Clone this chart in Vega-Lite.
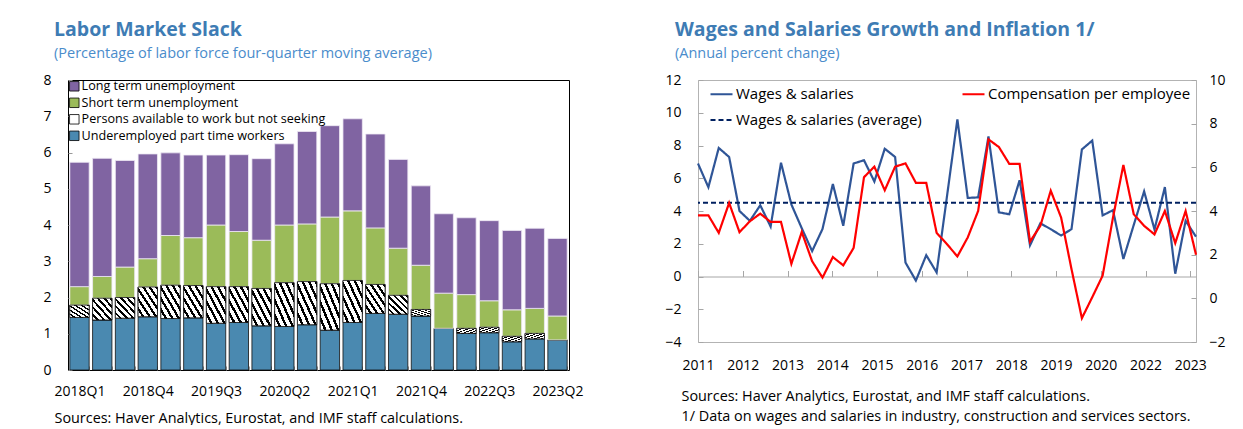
{
  "$schema": "https://vega.github.io/schema/vega-lite/v6.json",
  "background": "white",
  "padding": {"left": 42, "top": 19, "right": 0, "bottom": 0},
  "spacing": 80,
  "resolve": {"scale": {"color": "independent", "strokeDash": "independent"}, "legend": {"color": "independent", "strokeDash": "independent"}},
  "config": {
    "font": "Open Sans",
    "title": {"anchor": "start", "frame": "group", "fontSize": 19.5, "fontWeight": "bold", "color": "#3E7CB4", "subtitleColor": "#4A8CCB", "subtitleFontSize": 14.5, "subtitlePadding": 6, "offset": 12},
    "axis": {"labelFont": "Open Sans", "labelFontSize": 14, "labelColor": "#000000", "grid": false, "domain": false, "ticks": false, "titleFont": "Open Sans", "titleFontWeight": "normal", "titleColor": "#000000", "titleFontSize": 14.4},
    "legend": {"labelFont": "Open Sans", "labelColor": "#000000"}
  },
  "hconcat": [
    {
      "width": 501,
      "height": 290,
      "title": {"text": "Labor Market Slack", "subtitle": "(Percentage of labor force four-quarter moving average)", "dx": -14},
      "view": {"stroke": "#000000", "strokeWidth": 1},
      "data": {"values": [
        {"quarter": "2018Q1", "series": "Underemployed part time workers", "k": 1, "value": 1.45},
        {"quarter": "2018Q1", "series": "Persons available to work but not seeking", "k": 2, "value": 0.34},
        {"quarter": "2018Q1", "series": "Short term unemployment", "k": 3, "value": 0.51},
        {"quarter": "2018Q1", "series": "Long term unemployment", "k": 4, "value": 3.43},
        {"quarter": "2018Q2", "series": "Underemployed part time workers", "k": 1, "value": 1.38},
        {"quarter": "2018Q2", "series": "Persons available to work but not seeking", "k": 2, "value": 0.60},
        {"quarter": "2018Q2", "series": "Short term unemployment", "k": 3, "value": 0.60},
        {"quarter": "2018Q2", "series": "Long term unemployment", "k": 4, "value": 3.26},
        {"quarter": "2018Q3", "series": "Underemployed part time workers", "k": 1, "value": 1.43},
        {"quarter": "2018Q3", "series": "Persons available to work but not seeking", "k": 2, "value": 0.57},
        {"quarter": "2018Q3", "series": "Short term unemployment", "k": 3, "value": 0.84},
        {"quarter": "2018Q3", "series": "Long term unemployment", "k": 4, "value": 2.94},
        {"quarter": "2018Q4", "series": "Underemployed part time workers", "k": 1, "value": 1.47},
        {"quarter": "2018Q4", "series": "Persons available to work but not seeking", "k": 2, "value": 0.82},
        {"quarter": "2018Q4", "series": "Short term unemployment", "k": 3, "value": 0.78},
        {"quarter": "2018Q4", "series": "Long term unemployment", "k": 4, "value": 2.89},
        {"quarter": "2019Q1", "series": "Underemployed part time workers", "k": 1, "value": 1.42},
        {"quarter": "2019Q1", "series": "Persons available to work but not seeking", "k": 2, "value": 0.92},
        {"quarter": "2019Q1", "series": "Short term unemployment", "k": 3, "value": 1.37},
        {"quarter": "2019Q1", "series": "Long term unemployment", "k": 4, "value": 2.28},
        {"quarter": "2019Q2", "series": "Underemployed part time workers", "k": 1, "value": 1.44},
        {"quarter": "2019Q2", "series": "Persons available to work but not seeking", "k": 2, "value": 0.89},
        {"quarter": "2019Q2", "series": "Short term unemployment", "k": 3, "value": 1.32},
        {"quarter": "2019Q2", "series": "Long term unemployment", "k": 4, "value": 2.28},
        {"quarter": "2019Q3", "series": "Underemployed part time workers", "k": 1, "value": 1.29},
        {"quarter": "2019Q3", "series": "Persons available to work but not seeking", "k": 2, "value": 1.01},
        {"quarter": "2019Q3", "series": "Short term unemployment", "k": 3, "value": 1.70},
        {"quarter": "2019Q3", "series": "Long term unemployment", "k": 4, "value": 1.93},
        {"quarter": "2019Q4", "series": "Underemployed part time workers", "k": 1, "value": 1.31},
        {"quarter": "2019Q4", "series": "Persons available to work but not seeking", "k": 2, "value": 0.99},
        {"quarter": "2019Q4", "series": "Short term unemployment", "k": 3, "value": 1.52},
        {"quarter": "2019Q4", "series": "Long term unemployment", "k": 4, "value": 2.12},
        {"quarter": "2020Q1", "series": "Underemployed part time workers", "k": 1, "value": 1.22},
        {"quarter": "2020Q1", "series": "Persons available to work but not seeking", "k": 2, "value": 1.03},
        {"quarter": "2020Q1", "series": "Short term unemployment", "k": 3, "value": 1.33},
        {"quarter": "2020Q1", "series": "Long term unemployment", "k": 4, "value": 2.25},
        {"quarter": "2020Q2", "series": "Underemployed part time workers", "k": 1, "value": 1.20},
        {"quarter": "2020Q2", "series": "Persons available to work but not seeking", "k": 2, "value": 1.21},
        {"quarter": "2020Q2", "series": "Short term unemployment", "k": 3, "value": 1.59},
        {"quarter": "2020Q2", "series": "Long term unemployment", "k": 4, "value": 2.24},
        {"quarter": "2020Q3", "series": "Underemployed part time workers", "k": 1, "value": 1.25},
        {"quarter": "2020Q3", "series": "Persons available to work but not seeking", "k": 2, "value": 1.19},
        {"quarter": "2020Q3", "series": "Short term unemployment", "k": 3, "value": 1.59},
        {"quarter": "2020Q3", "series": "Long term unemployment", "k": 4, "value": 2.55},
        {"quarter": "2020Q4", "series": "Underemployed part time workers", "k": 1, "value": 1.10},
        {"quarter": "2020Q4", "series": "Persons available to work but not seeking", "k": 2, "value": 1.28},
        {"quarter": "2020Q4", "series": "Short term unemployment", "k": 3, "value": 1.84},
        {"quarter": "2020Q4", "series": "Long term unemployment", "k": 4, "value": 2.52},
        {"quarter": "2021Q1", "series": "Underemployed part time workers", "k": 1, "value": 1.31},
        {"quarter": "2021Q1", "series": "Persons available to work but not seeking", "k": 2, "value": 1.16},
        {"quarter": "2021Q1", "series": "Short term unemployment", "k": 3, "value": 1.92},
        {"quarter": "2021Q1", "series": "Long term unemployment", "k": 4, "value": 2.54},
        {"quarter": "2021Q2", "series": "Underemployed part time workers", "k": 1, "value": 1.56},
        {"quarter": "2021Q2", "series": "Persons available to work but not seeking", "k": 2, "value": 0.80},
        {"quarter": "2021Q2", "series": "Short term unemployment", "k": 3, "value": 1.56},
        {"quarter": "2021Q2", "series": "Long term unemployment", "k": 4, "value": 2.59},
        {"quarter": "2021Q3", "series": "Underemployed part time workers", "k": 1, "value": 1.54},
        {"quarter": "2021Q3", "series": "Persons available to work but not seeking", "k": 2, "value": 0.52},
        {"quarter": "2021Q3", "series": "Short term unemployment", "k": 3, "value": 1.30},
        {"quarter": "2021Q3", "series": "Long term unemployment", "k": 4, "value": 2.45},
        {"quarter": "2021Q4", "series": "Underemployed part time workers", "k": 1, "value": 1.49},
        {"quarter": "2021Q4", "series": "Persons available to work but not seeking", "k": 2, "value": 0.18},
        {"quarter": "2021Q4", "series": "Short term unemployment", "k": 3, "value": 1.22},
        {"quarter": "2021Q4", "series": "Long term unemployment", "k": 4, "value": 2.19},
        {"quarter": "2022Q1", "series": "Underemployed part time workers", "k": 1, "value": 1.15},
        {"quarter": "2022Q1", "series": "Persons available to work but not seeking", "k": 2, "value": 0.0},
        {"quarter": "2022Q1", "series": "Short term unemployment", "k": 3, "value": 0.97},
        {"quarter": "2022Q1", "series": "Long term unemployment", "k": 4, "value": 2.19},
        {"quarter": "2022Q2", "series": "Underemployed part time workers", "k": 1, "value": 1.01},
        {"quarter": "2022Q2", "series": "Persons available to work but not seeking", "k": 2, "value": 0.14},
        {"quarter": "2022Q2", "series": "Short term unemployment", "k": 3, "value": 0.93},
        {"quarter": "2022Q2", "series": "Long term unemployment", "k": 4, "value": 2.12},
        {"quarter": "2022Q3", "series": "Underemployed part time workers", "k": 1, "value": 1.03},
        {"quarter": "2022Q3", "series": "Persons available to work but not seeking", "k": 2, "value": 0.15},
        {"quarter": "2022Q3", "series": "Short term unemployment", "k": 3, "value": 0.73},
        {"quarter": "2022Q3", "series": "Long term unemployment", "k": 4, "value": 2.21},
        {"quarter": "2022Q4", "series": "Underemployed part time workers", "k": 1, "value": 0.78},
        {"quarter": "2022Q4", "series": "Persons available to work but not seeking", "k": 2, "value": 0.15},
        {"quarter": "2022Q4", "series": "Short term unemployment", "k": 3, "value": 0.73},
        {"quarter": "2022Q4", "series": "Long term unemployment", "k": 4, "value": 2.19},
        {"quarter": "2023Q1", "series": "Underemployed part time workers", "k": 1, "value": 0.86},
        {"quarter": "2023Q1", "series": "Persons available to work but not seeking", "k": 2, "value": 0.15},
        {"quarter": "2023Q1", "series": "Short term unemployment", "k": 3, "value": 0.69},
        {"quarter": "2023Q1", "series": "Long term unemployment", "k": 4, "value": 2.21},
        {"quarter": "2023Q2", "series": "Underemployed part time workers", "k": 1, "value": 0.83},
        {"quarter": "2023Q2", "series": "Persons available to work but not seeking", "k": 2, "value": 0.0},
        {"quarter": "2023Q2", "series": "Short term unemployment", "k": 3, "value": 0.66},
        {"quarter": "2023Q2", "series": "Long term unemployment", "k": 4, "value": 2.14}
      ]},
      "transform": [
        {"stack": "value", "groupby": ["quarter"], "sort": [{"field": "k", "order": "ascending"}], "as": ["y0", "y1"]}
      ],
      "encoding": {
        "x": {
          "field": "quarter", "type": "ordinal",
          "scale": {"paddingInner": 0.15, "paddingOuter": 0.08},
          "axis": {
            "title": "Sources: Haver Analytics, Eurostat, and IMF staff calculations.",
            "titleX": -14, "titleY": 48, "titleAlign": "left", "titleBaseline": "middle", "titleAnchor": "start",
            "labelAngle": 0, "labelPadding": 18,
            "labelExpr": "indexof(['2018Q1','2018Q4','2019Q3','2020Q2','2021Q1','2021Q4','2022Q3','2023Q2'], datum.value) >= 0 ? datum.value : ''",
            "ticks": true, "tickBand": "extent", "tickSize": -4, "tickColor": "#999999"
          }
        },
        "y": {
          "field": "y1", "type": "quantitative",
          "scale": {"domain": [0, 8], "nice": false},
          "axis": {"title": null, "values": [0, 1, 2, 3, 4, 5, 6, 7, 8], "labelPadding": 21, "ticks": true, "tickSize": -4, "tickColor": "#999999"}
        },
        "y2": {"field": "y0"}
      },
      "layer": [
        {
          "mark": {"type": "bar", "strokeWidth": 0.8},
          "encoding": {
            "color": {
              "field": "series", "type": "nominal",
              "sort": ["Long term unemployment", "Short term unemployment", "Persons available to work but not seeking", "Underemployed part time workers"],
              "scale": {
                "domain": ["Long term unemployment", "Short term unemployment", "Persons available to work but not seeking", "Underemployed part time workers"],
                "range": ["#8064A2", "#9BBB59", "#ffffff", "#4A89B0"]
              },
              "legend": {
                "orient": "none", "legendX": 0, "legendY": 0, "title": null, "padding": 0,
                "symbolType": "square", "symbolSize": 90, "symbolStrokeColor": "#000000", "symbolStrokeWidth": 0.8,
                "labelFontSize": 12.6, "labelOffset": 1, "rowPadding": 2.5, "labelLimit": 400
              }
            },
            "stroke": {
              "condition": {"test": "datum.series === 'Underemployed part time workers' || datum.series === 'Persons available to work but not seeking'", "value": "#111111"},
              "value": "#EFEAF5"
            }
          }
        },
        {
          "transform": [{"filter": "datum.series === 'Persons available to work but not seeking' && datum.value > 0"}],
          "mark": {
            "type": "bar", "stroke": "#111111", "strokeWidth": 0.8,
            "fill": {"gradient": "linear", "x1": 0, "y1": 1, "x2": 1, "y2": 0, "stops": [
              {"offset": 0, "color": "#ffffff"}, {"offset": 0.1, "color": "#ffffff"}, {"offset": 0.1, "color": "#000000"}, {"offset": 0.1667, "color": "#000000"},
              {"offset": 0.1667, "color": "#ffffff"}, {"offset": 0.2667, "color": "#ffffff"}, {"offset": 0.2667, "color": "#000000"}, {"offset": 0.3333, "color": "#000000"},
              {"offset": 0.3333, "color": "#ffffff"}, {"offset": 0.4333, "color": "#ffffff"}, {"offset": 0.4333, "color": "#000000"}, {"offset": 0.5, "color": "#000000"},
              {"offset": 0.5, "color": "#ffffff"}, {"offset": 0.6, "color": "#ffffff"}, {"offset": 0.6, "color": "#000000"}, {"offset": 0.6667, "color": "#000000"},
              {"offset": 0.6667, "color": "#ffffff"}, {"offset": 0.7667, "color": "#ffffff"}, {"offset": 0.7667, "color": "#000000"}, {"offset": 0.8333, "color": "#000000"},
              {"offset": 0.8333, "color": "#ffffff"}, {"offset": 0.9333, "color": "#ffffff"}, {"offset": 0.9333, "color": "#000000"}, {"offset": 1, "color": "#000000"}
            ]}
          }
        }
      ]
    },
    {
      "width": 498,
      "height": 262,
      "title": {"text": "Wages and Salaries Growth and Inflation 1/", "subtitle": "(Annual percent change)", "dx": -23},
      "view": {"stroke": "#B3B3B3", "strokeWidth": 1},
      "data": {"values": [
        {"t": 2011.00, "series": "Wages & salaries", "value": 6.9},
        {"t": 2011.25, "series": "Wages & salaries", "value": 5.45},
        {"t": 2011.50, "series": "Wages & salaries", "value": 7.85},
        {"t": 2011.75, "series": "Wages & salaries", "value": 7.3},
        {"t": 2012.00, "series": "Wages & salaries", "value": 4.0},
        {"t": 2012.25, "series": "Wages & salaries", "value": 3.4},
        {"t": 2012.50, "series": "Wages & salaries", "value": 4.35},
        {"t": 2012.75, "series": "Wages & salaries", "value": 3.05},
        {"t": 2013.00, "series": "Wages & salaries", "value": 6.95},
        {"t": 2013.25, "series": "Wages & salaries", "value": 4.4},
        {"t": 2013.50, "series": "Wages & salaries", "value": 2.95},
        {"t": 2013.75, "series": "Wages & salaries", "value": 1.55},
        {"t": 2014.00, "series": "Wages & salaries", "value": 2.9},
        {"t": 2014.25, "series": "Wages & salaries", "value": 5.65},
        {"t": 2014.50, "series": "Wages & salaries", "value": 3.1},
        {"t": 2014.75, "series": "Wages & salaries", "value": 6.9},
        {"t": 2015.00, "series": "Wages & salaries", "value": 7.1},
        {"t": 2015.25, "series": "Wages & salaries", "value": 5.8},
        {"t": 2015.50, "series": "Wages & salaries", "value": 7.8},
        {"t": 2015.75, "series": "Wages & salaries", "value": 7.3},
        {"t": 2016.00, "series": "Wages & salaries", "value": 0.85},
        {"t": 2016.25, "series": "Wages & salaries", "value": -0.25},
        {"t": 2016.50, "series": "Wages & salaries", "value": 1.3},
        {"t": 2016.75, "series": "Wages & salaries", "value": 0.25},
        {"t": 2017.00, "series": "Wages & salaries", "value": 4.9},
        {"t": 2017.25, "series": "Wages & salaries", "value": 9.6},
        {"t": 2017.50, "series": "Wages & salaries", "value": 4.8},
        {"t": 2017.75, "series": "Wages & salaries", "value": 4.83},
        {"t": 2018.00, "series": "Wages & salaries", "value": 8.55},
        {"t": 2018.25, "series": "Wages & salaries", "value": 3.92},
        {"t": 2018.50, "series": "Wages & salaries", "value": 3.8},
        {"t": 2018.75, "series": "Wages & salaries", "value": 5.88},
        {"t": 2019.00, "series": "Wages & salaries", "value": 1.9},
        {"t": 2019.25, "series": "Wages & salaries", "value": 3.25},
        {"t": 2019.50, "series": "Wages & salaries", "value": 2.89},
        {"t": 2019.75, "series": "Wages & salaries", "value": 2.5},
        {"t": 2020.00, "series": "Wages & salaries", "value": 2.89},
        {"t": 2020.25, "series": "Wages & salaries", "value": 7.76},
        {"t": 2020.50, "series": "Wages & salaries", "value": 8.3},
        {"t": 2020.75, "series": "Wages & salaries", "value": 3.73},
        {"t": 2021.00, "series": "Wages & salaries", "value": 4.05},
        {"t": 2021.25, "series": "Wages & salaries", "value": 1.07},
        {"t": 2021.50, "series": "Wages & salaries", "value": 3.15},
        {"t": 2021.75, "series": "Wages & salaries", "value": 5.2},
        {"t": 2022.00, "series": "Wages & salaries", "value": 2.87},
        {"t": 2022.25, "series": "Wages & salaries", "value": 5.46},
        {"t": 2022.50, "series": "Wages & salaries", "value": 0.17},
        {"t": 2022.75, "series": "Wages & salaries", "value": 3.4},
        {"t": 2023.00, "series": "Wages & salaries", "value": 2.43},
        {"t": 2011.00, "series": "Compensation per employee", "value": 3.8},
        {"t": 2011.25, "series": "Compensation per employee", "value": 3.8},
        {"t": 2011.50, "series": "Compensation per employee", "value": 3.0},
        {"t": 2011.75, "series": "Compensation per employee", "value": 4.37},
        {"t": 2012.00, "series": "Compensation per employee", "value": 3.03},
        {"t": 2012.25, "series": "Compensation per employee", "value": 3.53},
        {"t": 2012.50, "series": "Compensation per employee", "value": 3.88},
        {"t": 2012.75, "series": "Compensation per employee", "value": 3.5},
        {"t": 2013.00, "series": "Compensation per employee", "value": 3.5},
        {"t": 2013.25, "series": "Compensation per employee", "value": 1.58},
        {"t": 2013.50, "series": "Compensation per employee", "value": 3.04},
        {"t": 2013.75, "series": "Compensation per employee", "value": 1.7},
        {"t": 2014.00, "series": "Compensation per employee", "value": 0.95},
        {"t": 2014.25, "series": "Compensation per employee", "value": 1.89},
        {"t": 2014.50, "series": "Compensation per employee", "value": 1.51},
        {"t": 2014.75, "series": "Compensation per employee", "value": 2.31},
        {"t": 2015.00, "series": "Compensation per employee", "value": 5.55},
        {"t": 2015.25, "series": "Compensation per employee", "value": 6.03},
        {"t": 2015.50, "series": "Compensation per employee", "value": 4.95},
        {"t": 2015.75, "series": "Compensation per employee", "value": 6.03},
        {"t": 2016.00, "series": "Compensation per employee", "value": 6.18},
        {"t": 2016.25, "series": "Compensation per employee", "value": 5.29},
        {"t": 2016.50, "series": "Compensation per employee", "value": 5.29},
        {"t": 2016.75, "series": "Compensation per employee", "value": 3.0},
        {"t": 2017.00, "series": "Compensation per employee", "value": 2.48},
        {"t": 2017.25, "series": "Compensation per employee", "value": 1.92},
        {"t": 2017.50, "series": "Compensation per employee", "value": 2.79},
        {"t": 2017.75, "series": "Compensation per employee", "value": 4.0},
        {"t": 2018.00, "series": "Compensation per employee", "value": 7.28},
        {"t": 2018.25, "series": "Compensation per employee", "value": 6.93},
        {"t": 2018.50, "series": "Compensation per employee", "value": 6.16},
        {"t": 2018.75, "series": "Compensation per employee", "value": 6.16},
        {"t": 2019.00, "series": "Compensation per employee", "value": 2.6},
        {"t": 2019.25, "series": "Compensation per employee", "value": 3.32},
        {"t": 2019.50, "series": "Compensation per employee", "value": 4.93},
        {"t": 2019.75, "series": "Compensation per employee", "value": 3.7},
        {"t": 2020.00, "series": "Compensation per employee", "value": 1.34},
        {"t": 2020.25, "series": "Compensation per employee", "value": -0.91},
        {"t": 2020.50, "series": "Compensation per employee", "value": 0.05},
        {"t": 2020.75, "series": "Compensation per employee", "value": 1.04},
        {"t": 2021.00, "series": "Compensation per employee", "value": 3.7},
        {"t": 2021.25, "series": "Compensation per employee", "value": 6.11},
        {"t": 2021.50, "series": "Compensation per employee", "value": 3.85},
        {"t": 2021.75, "series": "Compensation per employee", "value": 3.32},
        {"t": 2022.00, "series": "Compensation per employee", "value": 2.93},
        {"t": 2022.25, "series": "Compensation per employee", "value": 4.0},
        {"t": 2022.50, "series": "Compensation per employee", "value": 2.53},
        {"t": 2022.75, "series": "Compensation per employee", "value": 4.0},
        {"t": 2023.00, "series": "Compensation per employee", "value": 2.0},
        {"series": "Wages & salaries (average)", "value": 4.5}
      ]},
      "layer": [
        {
          "transform": [{"filter": "datum.series === 'Wages & salaries'"}],
          "mark": {"type": "line", "strokeWidth": 2.2},
          "encoding": {
            "x": {
              "field": "t", "type": "quantitative",
              "scale": {"domain": [2011, 2023], "nice": false, "zero": false},
              "axis": {
                "orient": "bottom",
                "values": [2011, 2012.0784, 2013.1568, 2014.2352, 2015.3136, 2016.392, 2017.4704, 2018.5488, 2019.6272, 2020.7056, 2021.784, 2022.8624],
                "labelExpr": "['2011','2012','2013','2014','2015','2016','2017','2018','2019','2020','2022','2023'][round((datum.value - 2011) / 1.0784)]",
                "labelPadding": 16, "labelFlush": false,
                "title": ["Sources: Haver Analytics, Eurostat, and IMF staff calculations.", "1/ Data on wages and salaries in industry, construction and services sectors."],
                "titleX": -17, "titleY": 47, "titleAlign": "left", "titleBaseline": "top", "titleAnchor": "start", "titleLineHeight": 20
              }
            },
            "y": {
              "field": "value", "type": "quantitative",
              "scale": {"domain": [-4, 12], "nice": false, "zero": false},
              "axis": {"title": null, "values": [-4, -2, 0, 2, 4, 6, 8, 10, 12], "labelPadding": 22, "ticks": true, "tickSize": -5, "tickColor": "#A6A6A6"}
            },
            "color": {
              "field": "series", "type": "nominal",
              "scale": {"domain": ["Wages & salaries", "Wages & salaries (average)", "Compensation per employee"], "range": ["#2F5597", "#002060", "#FF0000"]},
              "legend": {
                "orient": "none", "legendX": 11, "legendY": 1.5, "title": null, "columns": 2, "columnPadding": 36, "rowPadding": 5, "padding": 0,
                "symbolType": "stroke", "symbolSize": 484, "symbolStrokeWidth": 2.2, "labelFontSize": 15, "labelOffset": 2, "labelLimit": 400
              }
            },
            "strokeDash": {
              "field": "series", "type": "nominal",
              "scale": {"domain": ["Wages & salaries", "Wages & salaries (average)", "Compensation per employee"], "range": [[1, 0], [5, 3], [1, 0]]},
              "legend": {
                "orient": "none", "legendX": 11, "legendY": 1.5, "title": null, "columns": 2, "columnPadding": 36, "rowPadding": 5, "padding": 0,
                "symbolType": "stroke", "symbolSize": 484, "symbolStrokeWidth": 2.2, "labelFontSize": 15, "labelOffset": 2, "labelLimit": 400
              }
            }
          }
        },
        {
          "transform": [{"filter": "datum.series === 'Wages & salaries (average)'"}],
          "mark": {"type": "rule", "strokeWidth": 2},
          "encoding": {
            "y": {"field": "value", "type": "quantitative", "scale": {"domain": [-4, 12], "nice": false, "zero": false}, "axis": null},
            "color": {"field": "series", "type": "nominal"},
            "strokeDash": {"field": "series", "type": "nominal"}
          }
        },
        {
          "transform": [{"filter": "datum.series === 'Compensation per employee'"}],
          "mark": {"type": "line", "strokeWidth": 2.2},
          "encoding": {
            "x": {
              "field": "t", "type": "quantitative",
              "axis": {
                "orient": "bottom",
                "values": [2011, 2012.0784, 2013.1568, 2014.2352, 2015.3136, 2016.392, 2017.4704, 2018.5488, 2019.6272, 2020.7056, 2021.784, 2022.8624],
                "labels": false, "title": null, "offset": -65.5,
                "domain": true, "domainColor": "#A6A6A6", "ticks": true, "tickSize": -6, "tickColor": "#A6A6A6"
              }
            },
            "y": {
              "field": "value", "type": "quantitative",
              "scale": {"domain": [-2, 10], "nice": false, "zero": false},
              "axis": {"orient": "right", "title": null, "values": [-2, 0, 2, 4, 6, 8, 10], "labelPadding": 18, "ticks": true, "tickSize": -5, "tickColor": "#A6A6A6"}
            },
            "color": {"field": "series", "type": "nominal"},
            "strokeDash": {"field": "series", "type": "nominal"}
          }
        }
      ],
      "resolve": {"scale": {"y": "independent"}, "axis": {"x": "independent"}}
    }
  ]
}
